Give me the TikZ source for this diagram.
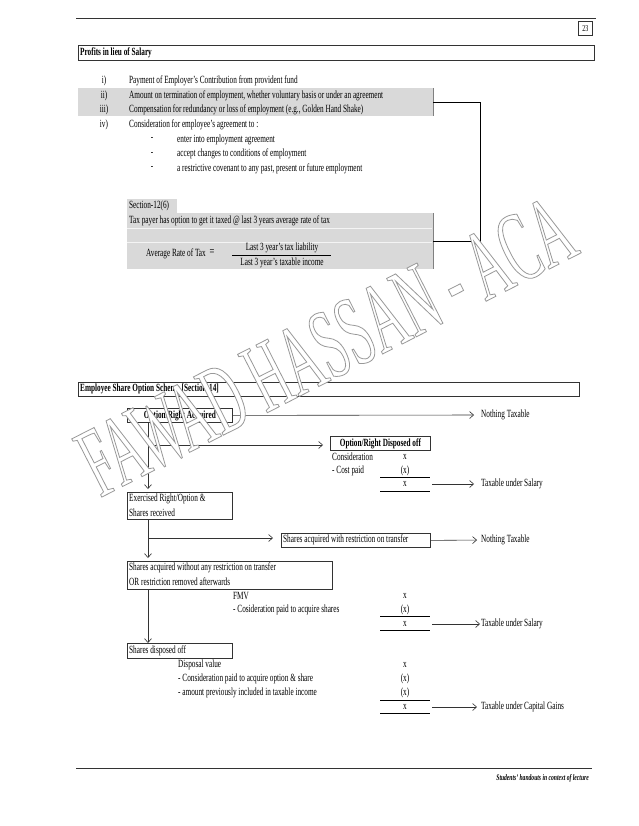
\documentclass[tikz,border=0pt]{standalone}
\usepackage{fontspec}
\setmainfont[FakeStretch=0.66]{Liberation Serif}
\newfontfamily\wmfont[FakeStretch=0.51]{Liberation Serif}
\usetikzlibrary{arrows.meta}
\definecolor{bandgray}{HTML}{D9D9D9}
\definecolor{edgegray}{HTML}{808080}
\definecolor{boxline}{HTML}{333333}
\begin{document}
\begin{tikzpicture}[x=1pt,y=-1pt,
  txt/.style={anchor=west,inner sep=0pt,font=\fontsize{11}{12}\selectfont},
  btxt/.style={anchor=west,inner sep=0pt,font=\fontsize{11}{12}\selectfont\bfseries},
  ctxt/.style={anchor=center,inner sep=0pt,font=\fontsize{11}{12}\selectfont},
  cbtxt/.style={anchor=center,inner sep=0pt,font=\fontsize{11}{12}\selectfont\bfseries},
  frame/.style={draw=boxline,line width=0.8pt,inner sep=0pt,anchor=north west},
  shade/.style={fill=bandgray,inner sep=0pt,anchor=north west},
  edgeline/.style={draw=edgegray,line width=1.5pt},
  arr/.style={draw=boxline,line width=0.6pt,-{Straight Barb[length=4pt,width=7pt]}},
  res/.style={anchor=center,inner sep=0pt,minimum width=50pt,font=\fontsize{11}{12}\selectfont},
  rule/.style={draw=black,line width=0.8pt}
]
\useasboundingbox (0,0) rectangle (638,826);
\fill[white] (0,0) rectangle (638,826);

% header
\coordinate (hl) at (76,18);
\coordinate (hr) at (596,18);
\draw[line width=0.7pt,black!80] (hl) -- (hr);
\node[frame,minimum width=14pt,minimum height=14pt] (pg) at (578,21) {};
\node[ctxt,font=\fontsize{9}{9}\selectfont] (pgt) at (pg.center) {23};
\node[frame,minimum width=516pt,minimum height=15pt] (prof) at (78,45) {};
\node[btxt] (proft) at (80,52.5) {Profits in lieu of Salary};

% list
\node[shade,minimum width=355pt,minimum height=28pt] (band) at (78,88) {};
\draw[edgeline] (band.north east) -- (band.south east);
\node[ctxt] (l1) at (104,80.5) {i)};
\node[ctxt] (l2) at (104,95.5) {ii)};
\node[ctxt] (l3) at (104,110) {iii)};
\node[ctxt] (l4) at (104,124.5) {iv)};
\node[txt] (t1) at (129,80.5) {Payment of Employer's Contribution from provident fund};
\node[txt] (t2) at (129,95.5) {Amount on termination of employment, whether voluntary basis or under an agreement};
\node[txt] (t3) at (129,110) {Compensation for redundancy or loss of employment (e.g., Golden Hand Shake)};
\node[txt] (t4) at (129,124.5) {Consideration for employee's agreement to :};
\node[ctxt] (d1) at (152,139.5) {-};
\node[ctxt] (d2) at (152,154) {-};
\node[ctxt] (d3) at (152,168.5) {-};
\node[txt] (s1) at (177,139.5) {enter into employment agreement};
\node[txt] (s2) at (177,154) {accept changes to conditions of employment};
\node[txt] (s3) at (177,168.5) {a restrictive covenant to any past, present or future employment};

% section 12(6)
\node[shade,minimum width=50pt,minimum height=14pt] (tab) at (127,199) {};
\node[txt] (tabt) at (129,206) {Section-12(6)};
\node[shade,minimum width=306pt,minimum height=56pt] (sec) at (127,213) {};
\draw[edgeline] (sec.north east) -- (sec.south east);
\draw[white!70!bandgray,line width=0.6pt] (127,228) -- (432,228);
\draw[white!70!bandgray,line width=0.6pt] (127,242) -- (432,242);
\node[txt] (taxp) at (129,220.5) {Tax payer has option to get it taxed @ last 3 years average rate of tax};
\node[txt] (avg) at (146,254) {Average Rate of Tax};
\node[ctxt,font=\fontsize{13}{13}\selectfont] (eq) at (212,253) {=};
\node[ctxt] (num) at (282,248) {Last 3 year's tax liability};
\node[ctxt] (den) at (282,263) {Last 3 year's taxable income};
\draw[rule] (232,255.5) -- (331,255.5);

% connector
\draw[line width=0.9pt] (band.east) -- ++(47,0) |- (sec.east);

% ESOS
\node[frame,minimum width=501pt,minimum height=14pt] (esos) at (78,382) {};
\node[btxt] (esost) at (80,389) {Employee Share Option Scheme [Section-14]};

\node[frame,minimum width=105pt,minimum height=14pt] (acq) at (127,408) {};
\node[cbtxt] (acqt) at (acq.center) {Option/Right Acquired};
\node[txt] (nt1) at (481,415) {Nothing Taxable};
\draw[arr,shorten >=7pt] (acq.east) -- (nt1.west);

\node[frame,minimum width=100pt,minimum height=14pt] (disp) at (330,436) {};
\node[cbtxt] (dispt) at (disp.center) {Option/Right Disposed off};
\node[txt] (c1) at (332,457) {Consideration};
\node[ctxt] (c1x) at (405,457) {x};
\node[txt] (c2) at (332,471) {- Cost paid};
\node[ctxt] (c2x) at (405,471) {(x)};
\draw[rule] (380,477.5) -- (430,477.5);
\node[res] (r1) at (405,484) {x};
\draw[rule] (380,491) -- (430,491);
\node[txt] (ts1) at (481,484) {Taxable under Salary};
\draw[arr,shorten <=2pt,shorten >=7pt] (r1.east) -- (ts1.west);

\node[frame,minimum width=105pt,minimum height=27pt] (exer) at (127,492) {};
\node[txt] (ex1) at (129,499) {Exercised Right/Option \&};
\node[txt] (ex2) at (129,513) {Shares received};

\coordinate (b1) at (148,445);
\draw[arr,shorten >=3pt] ([xshift=21pt]acq.south west) -- ([xshift=21pt]exer.north west);
\draw[arr,shorten >=7pt] (b1) -- (b1 -| disp.west);

\node[frame,minimum width=149pt,minimum height=14pt] (restr) at (281,533) {};
\node[txt] (restrt) at (283,540) {Shares acquired with restriction on transfer};
\node[txt] (nt2) at (481,540) {Nothing Taxable};
\draw[arr,shorten >=4pt] (restr.east) -- (nt2.west);

\node[frame,minimum width=205pt,minimum height=28pt] (without) at (127,561) {};
\node[txt] (w1) at (129,568) {Shares acquired without any restriction on transfer};
\node[txt] (w2) at (129,582) {OR restriction removed afterwards};

\coordinate (b2) at (148,538);
\draw[arr,shorten >=3pt] ([xshift=21pt]exer.south west) -- ([xshift=21pt]without.north west);
\draw[arr,shorten >=8pt] (b2) -- (b2 -| restr.west);

\node[txt] (f1) at (233,596) {FMV};
\node[ctxt] (f1x) at (405,596) {x};
\node[txt] (f2) at (233,610) {- Cosideration paid to acquire shares};
\node[ctxt] (f2x) at (405,610) {(x)};
\draw[rule] (380,616.5) -- (430,616.5);
\node[res] (r2) at (405,624) {x};
\draw[rule] (380,630.5) -- (430,630.5);
\node[txt] (ts2) at (481,624) {Taxable under Salary};
\draw[arr,shorten <=2pt,shorten >=1pt] (r2.east) -- (ts2.west);

\node[frame,minimum width=105pt,minimum height=15pt] (sdisp) at (127,643) {};
\node[txt] (sdispt) at (129,650.5) {Shares disposed off};
\draw[arr,shorten >=0pt] ([xshift=21pt]without.south west) -- ([xshift=21pt]sdisp.north west);

\node[txt] (g1) at (178,665) {Disposal value};
\node[ctxt] (g1x) at (405,665) {x};
\node[txt] (g2) at (178,679) {- Consideration paid to acquire option \& share};
\node[ctxt] (g2x) at (405,679) {(x)};
\node[txt] (g3) at (178,693) {- amount previously included in taxable income};
\node[ctxt] (g3x) at (405,693) {(x)};
\draw[rule] (380,700) -- (430,700);
\node[res] (r3) at (405,707) {x};
\draw[rule] (380,713.5) -- (430,713.5);
\node[txt] (tc) at (481,707) {Taxable under Capital Gains};
\draw[arr,shorten <=2pt,shorten >=4pt] (r3.east) -- (tc.west);

% footer
\coordinate (fl) at (76,768);
\coordinate (fr) at (592,768);
\draw[line width=0.7pt,black!80] (fl) -- (fr);
\node[anchor=east,inner sep=0pt,font=\fontsize{8.5}{10}\selectfont\bfseries\itshape] (foot) at (589,778) {Students' handouts in context of lecture};

% watermark
\node[anchor=base west,rotate=27,inner sep=0pt,font=\wmfont\fontsize{100}{100}\selectfont] (wm) at (100,498)
  {\color{white}\special{pdf:literal direct 2 Tr 0.6 G 0.8 w}FAWAD HASSAN - ACA\special{pdf:literal direct 0 Tr}};
\end{tikzpicture}
\end{document}
